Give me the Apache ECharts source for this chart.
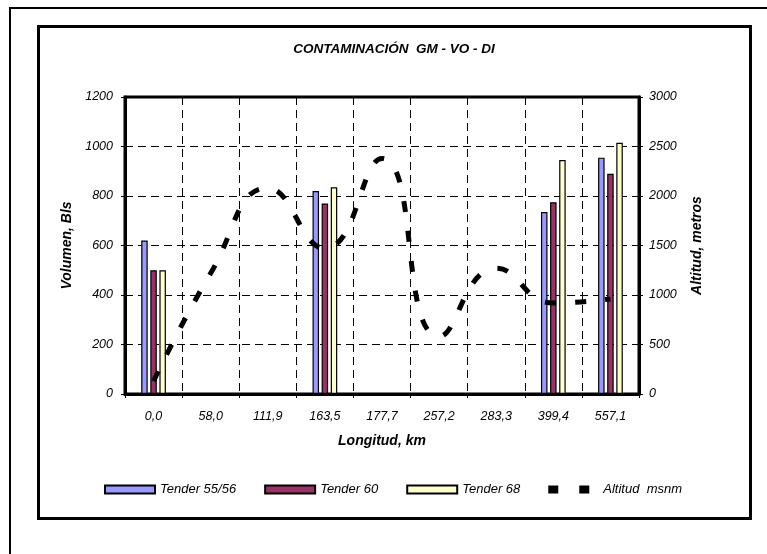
<!DOCTYPE html>
<html>
<head>
<meta charset="utf-8">
<script src="https://cdn.jsdelivr.net/npm/echarts@6/dist/echarts.min.js"></script>
<style>
html,body{margin:0;padding:0;background:#fff;}
#chart{width:767px;height:554px;}
</style>
</head>
<body>
<div id="chart"></div>
<script>
var categories = ['0,0', '58,0', '111,9', '163,5', '177,7', '257,2', '283,3', '399,4', '557,1'];
var tender5556 = [620, null, null, 820, null, null, null, 735, 955];
var tender60 = [500, null, null, 770, null, null, null, 775, 890];
var tender68 = [500, null, null, 835, null, null, null, 945, 1015];
var altitud = [130, 1220, 2080, 1470, 2380, 580, 1270, 920, 960];
var leftTicks = {min: 0, max: 1200, interval: 200};
var rightTicks = {min: 0, max: 3000, interval: 500};

var FONT = "'Liberation Sans', Arial, sans-serif";
var chart = echarts.init(document.getElementById('chart'), null, {renderer: 'canvas'});

function plain(v) { return String(v); }

function barSeries(name, data, color) {
  return {
    name: name, type: 'bar', data: data, yAxisIndex: 0,
    barWidth: 6.5, barGap: '40%',
    itemStyle: {color: color, borderColor: '#000', borderWidth: 1.2}
  };
}

var option = {
  animation: false,
  backgroundColor: '#fff',
  textStyle: {fontFamily: FONT},
  title: {
    text: 'CONTAMINACIÓN  GM - VO - DI',
    left: 389, top: 37, textAlign: 'center',
    textStyle: {fontFamily: FONT, fontSize: 13.5, fontWeight: 'bold', fontStyle: 'italic', color: '#000'}
  },
  graphic: [
    {type: 'rect', silent: true, z: -10, shape: {x: 10, y: 8, width: 800, height: 600},
     style: {fill: 'none', stroke: '#000', lineWidth: 2}},
    {type: 'rect', silent: true, z: -10, shape: {x: 38.5, y: 26.5, width: 712, height: 492},
     style: {fill: 'none', stroke: '#000', lineWidth: 3}}
  ],
  legend: {
    left: 99, top: 478,
    itemWidth: 50, itemHeight: 8, itemGap: 28,
    textStyle: {fontFamily: FONT, fontSize: 13, fontStyle: 'italic', color: '#000'},
    data: [
      {name: 'Tender 55/56', icon: 'rect'},
      {name: 'Tender 60', icon: 'rect'},
      {name: 'Tender 68', icon: 'rect'},
      {name: 'Altitud  msnm', icon: 'path://M0,0h10v8h-10z M31,0h10v8h-10z M50,0L50,8', itemStyle: {color: '#000'}}
    ]
  },
  grid: {left: 125, right: 128, top: 97, bottom: 160, show: true, borderColor: '#000', borderWidth: 3, backgroundColor: '#fff'},
  xAxis: {
    type: 'category', data: categories, boundaryGap: true,
    axisLine: {show: true, lineStyle: {color: '#000', width: 3}},
    axisTick: {show: true, length: 4, lineStyle: {color: '#000', width: 1}},
    splitLine: {show: true, lineStyle: {color: '#000', width: 1, type: [8, 5]}},
    axisLabel: {interval: 0, margin: 16, fontFamily: FONT, fontSize: 12.5, fontStyle: 'italic', color: '#000'},
    name: 'Longitud, km', nameLocation: 'middle', nameGap: 40,
    nameTextStyle: {fontFamily: FONT, fontSize: 14, fontWeight: 'bold', fontStyle: 'italic', color: '#000'}
  },
  yAxis: [
    {
      type: 'value', position: 'left', min: leftTicks.min, max: leftTicks.max, interval: leftTicks.interval,
      axisLine: {show: true, lineStyle: {color: '#000', width: 3}},
      axisTick: {show: true, length: 4, lineStyle: {color: '#000', width: 1}},
      splitLine: {show: true, lineStyle: {color: '#000', width: 1, type: [8, 5]}},
      axisLabel: {margin: 12, formatter: plain, fontFamily: FONT, fontSize: 12.5, fontStyle: 'italic', color: '#000'},
      name: 'Volumen, Bls', nameLocation: 'middle', nameGap: 36, nameRotate: 90,
      nameTextStyle: {fontFamily: FONT, fontSize: 14, fontWeight: 'bold', fontStyle: 'italic', color: '#000'}
    },
    {
      type: 'value', position: 'right', min: rightTicks.min, max: rightTicks.max, interval: rightTicks.interval,
      axisLine: {show: true, lineStyle: {color: '#000', width: 3}},
      axisTick: {show: true, length: 4, lineStyle: {color: '#000', width: 1}},
      splitLine: {show: false},
      axisLabel: {margin: 10, formatter: plain, fontFamily: FONT, fontSize: 12.5, fontStyle: 'italic', color: '#000'},
      name: 'Altitud, metros', nameLocation: 'middle', nameGap: 51, nameRotate: 90,
      nameTextStyle: {fontFamily: FONT, fontSize: 14, fontWeight: 'bold', fontStyle: 'italic', color: '#000'}
    }
  ],
  series: [
    barSeries('Tender 55/56', tender5556, '#9999FF'),
    barSeries('Tender 60', tender60, '#993366'),
    barSeries('Tender 68', tender68, '#FFFFCC'),
    {
      name: 'Altitud  msnm', type: 'line', yAxisIndex: 1, data: altitud,
      smooth: 0.5, symbol: 'none', showSymbol: false, z: 10,
      color: '#000',
      lineStyle: {color: '#000', width: 5, type: [11, 19], cap: 'butt'}
    }
  ]
};
chart.setOption(option);
</script>
</body>
</html>
